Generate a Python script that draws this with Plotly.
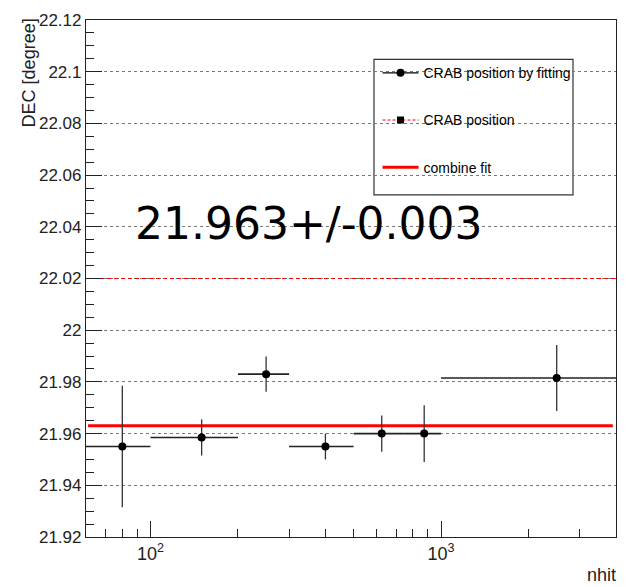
import math
import plotly.graph_objects as go

# ---- data ----
bin_lo = [60, 100, 200, 300, 500, 750, 1000]
bin_hi = [100, 200, 300, 500, 750, 1000, 4000]
nhit_center = [80, 150, 250, 400, 625, 875, 2500]
dec_fit = [21.955, 21.9585, 21.983, 21.955, 21.960, 21.960, 21.9815]
dec_err = [0.0235, 0.007, 0.0068, 0.005, 0.007, 0.011, 0.0128]

crab_dec = 22.02
combine_value = 21.963
combine_err = 0.003
combine_x = [61, 3900]
x_range = [60, 4000]

y_tickvals = [21.92, 21.94, 21.96, 21.98, 22.0, 22.02, 22.04, 22.06, 22.08, 22.1, 22.12]
y_ticktext = ["21.92", "21.94", "21.96", "21.98", "22", "22.02", "22.04", "22.06", "22.08", "22.1", "22.12"]
x_tickvals = [100, 1000]
x_ticktext = ["10<sup>2</sup>", "10<sup>3</sup>"]
x_minor = [70, 80, 90, 200, 300, 400, 500, 600, 700, 800, 900, 2000, 3000]

legend_names = ["CRAB position by fitting", "CRAB position", "combine fit"]

FONT = "Liberation Sans, Arial, sans-serif"

err_plus = [h - c for h, c in zip(bin_hi, nhit_center)]
err_minus = [c - l for c, l in zip(nhit_center, bin_lo)]

fig = go.Figure()

# CRAB position (dashed red)
fig.add_trace(go.Scatter(
    x=x_range, y=[crab_dec, crab_dec], mode="lines",
    line=dict(color="red", width=1, dash="4px,3px"),
    showlegend=False, hoverinfo="skip"))

# combine fit
fig.add_trace(go.Scatter(
    x=combine_x, y=[combine_value, combine_value], mode="lines",
    line=dict(color="red", width=3),
    showlegend=False, hoverinfo="skip"))

# fitted points
fig.add_trace(go.Scatter(
    x=nhit_center, y=dec_fit, mode="markers",
    marker=dict(color="black", size=8, symbol="circle"),
    error_x=dict(type="data", symmetric=False, array=err_plus, arrayminus=err_minus,
                 color="#222", thickness=1.6, width=0),
    error_y=dict(type="data", array=dec_err, color="#333", thickness=1.3, width=0),
    showlegend=False))

# legend-only traces
fig.add_trace(go.Scatter(x=[None], y=[None], mode="lines+markers", name=legend_names[0],
                         line=dict(color="black", width=1.3),
                         marker=dict(color="black", size=8, symbol="circle"),
                         legendgroup="a"))
fig.add_trace(go.Scatter(x=[None], y=[None], mode="lines+markers", name=legend_names[1],
                         line=dict(color="red", width=1, dash="3px,2px"),
                         marker=dict(color="black", size=7, symbol="square"),
                         legendgroup="b"))
fig.add_trace(go.Scatter(x=[None], y=[None], mode="lines", name=legend_names[2],
                         line=dict(color="red", width=3),
                         legendgroup="c"))

fig.update_layout(
    width=631, height=587,
    margin=dict(l=86, r=15, t=11, b=50),
    paper_bgcolor="white", plot_bgcolor="white",
    font=dict(family=FONT, size=16, color="black"),
    showlegend=True,
    legend=dict(x=0.55, y=0.928, xanchor="left", yanchor="top",
                bgcolor="rgba(0,0,0,0)", borderwidth=0,
                itemwidth=36, tracegroupgap=26, traceorder="grouped",
                font=dict(family=FONT, size=14)),
    shapes=[dict(type="rect", xref="paper", yref="paper",
                 x0=(374 - 86) / 530, x1=(573 - 86) / 530,
                 y0=(537 - 189) / 526, y1=(537 - 51) / 526,
                 line=dict(color="#333", width=1.2), fillcolor="white", layer="below")],
    annotations=[
        dict(text=f"{combine_value:.3f}+/-{combine_err:.3f}", xref="paper", yref="paper",
             x=(309 - 86) / 530, y=(537 - 218) / 526, xanchor="center", yanchor="middle",
             showarrow=False, font=dict(family="DejaVu Sans", size=44, color="black")),
        dict(text="DEC [degree]", xref="paper", yref="paper", textangle=-90,
             x=(29 - 86) / 530, y=1.006, xanchor="center", yanchor="top",
             showarrow=False, font=dict(family=FONT, size=18, color="#222")),
        dict(text="nhit", xref="paper", yref="paper",
             x=1.004, y=(537 - 563) / 526, xanchor="right", yanchor="top",
             showarrow=False, font=dict(family=FONT, size=18, color="#222")),
    ],
)

fig.update_xaxes(
    type="log", range=[math.log10(x_range[0]), math.log10(x_range[1])],
    showgrid=False, zeroline=False,
    showline=True, linecolor="#222", linewidth=1.2, mirror=True,
    ticks="inside", ticklen=16, tickwidth=1, tickcolor="#222",
    tickmode="array", tickvals=x_tickvals, ticktext=x_ticktext,
    tickfont=dict(family=FONT, size=18, color="#222"),
    minor=dict(tickmode="array", tickvals=x_minor, ticks="inside", ticklen=8,
               tickwidth=1, tickcolor="#222", showgrid=False),
)
fig.update_yaxes(
    range=[y_tickvals[0], y_tickvals[-1]],
    showgrid=True, gridcolor="#777", gridwidth=1, griddash="dot",
    zeroline=False,
    showline=True, linecolor="#222", linewidth=1.2, mirror=True,
    ticks="inside", ticklen=16, tickwidth=1, tickcolor="#222",
    tickmode="array", tickvals=y_tickvals, ticktext=y_ticktext,
    tickfont=dict(family=FONT, size=17, color="#222"),
    minor=dict(dtick=0.005, ticks="inside", ticklen=8, tickwidth=1,
               tickcolor="#222", showgrid=False),
)

fig.write_html("out.html")
